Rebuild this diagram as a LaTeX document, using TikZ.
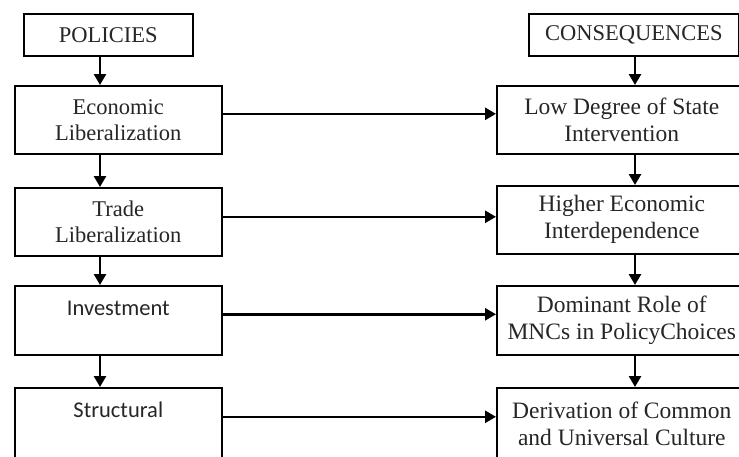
\documentclass[tikz,border=0pt]{standalone}
\usepackage{fontspec}
\setmainfont{Liberation Serif}
\newfontfamily\calibri{Carlito}
\usetikzlibrary{arrows.meta}

\begin{document}
\begin{tikzpicture}[x=1pt,y=-1pt]
    \tikzstyle{box}=[draw=black,line width=1.6pt,inner sep=0pt,align=center,anchor=north west,font=\fontsize{22.5}{26}\selectfont,text=black!85]
    \tikzstyle{lbox}=[box,minimum width=207pt,minimum height=68pt]
    \tikzstyle{rbox}=[box,minimum width=250pt,minimum height=68pt,font=\fontsize{23.5}{27}\selectfont]
    \tikzstyle{link}=[line width=2.6pt,-{Triangle[length=11pt,width=12pt]}]
    \clip (0,0) rectangle (739,456);
    \fill[white] (0,0) rectangle (739,456);
    % column heads
    \node[box,minimum width=169pt,minimum height=42pt] (policies) at (23,13) {POLICIES};
    \node[box,minimum width=210pt,minimum height=42pt] (conseq) at (528,13) {CONSEQUENCES};
    % policies
    \node[lbox] (econ) at (14,85) {Economic\\Liberalization};
    \node[lbox] (trade) at (14,187) {Trade\\Liberalization};
    \node[lbox,font=\fontsize{22.5}{26}\calibri,minimum height=0pt,text height=30pt,text depth=39pt] (invest) at (14,285) {Investment};
    \node[lbox,font=\fontsize{22.5}{26}\calibri,minimum height=0pt,text height=30pt,text depth=40pt] (struct) at (14,387) {Structural};
    % consequences
    \node[rbox] (lowdeg) at (496,85) {Low Degree of State\\Intervention};
    \node[rbox] (higher) at (496,185) {Higher Economic\\Interdependence};
    \node[rbox,minimum height=69pt] (dominant) at (496,285) {Dominant Role of\\MNCs in PolicyChoices};
    \node[rbox,minimum height=72pt] (deriv) at (496,387) {Derivation of Common\\and Universal Culture};
    % arrows
    \coordinate (la) at (100,0);
    \coordinate (ra) at (635,0);
    \draw[link] (policies.south -| la) -- (econ.north -| la);
    \draw[link] (econ.south -| la) -- (trade.north -| la);
    \draw[link] (trade.south -| la) -- (invest.north -| la);
    \draw[link] (invest.south -| la) -- (struct.north -| la);
    \draw[link] (conseq.south -| ra) -- (lowdeg.north -| ra);
    \draw[link] (lowdeg.south -| ra) -- (higher.north -| ra);
    \draw[link] (higher.south -| ra) -- (dominant.north -| ra);
    \draw[link] (dominant.south -| ra) -- (deriv.north -| ra);
    \draw[link] ([yshift=6pt]econ.east) -- ([yshift=6pt]econ.east -| lowdeg.west);
    \draw[link] ([yshift=5pt]trade.east) -- ([yshift=5pt]trade.east -| higher.west);
    \draw[link] ([yshift=6pt]invest.east) -- ([yshift=6pt]invest.east -| dominant.west);
    \draw[link] ([yshift=6pt]struct.east) -- ([yshift=6pt]struct.east -| deriv.west);
\end{tikzpicture}
\end{document}
